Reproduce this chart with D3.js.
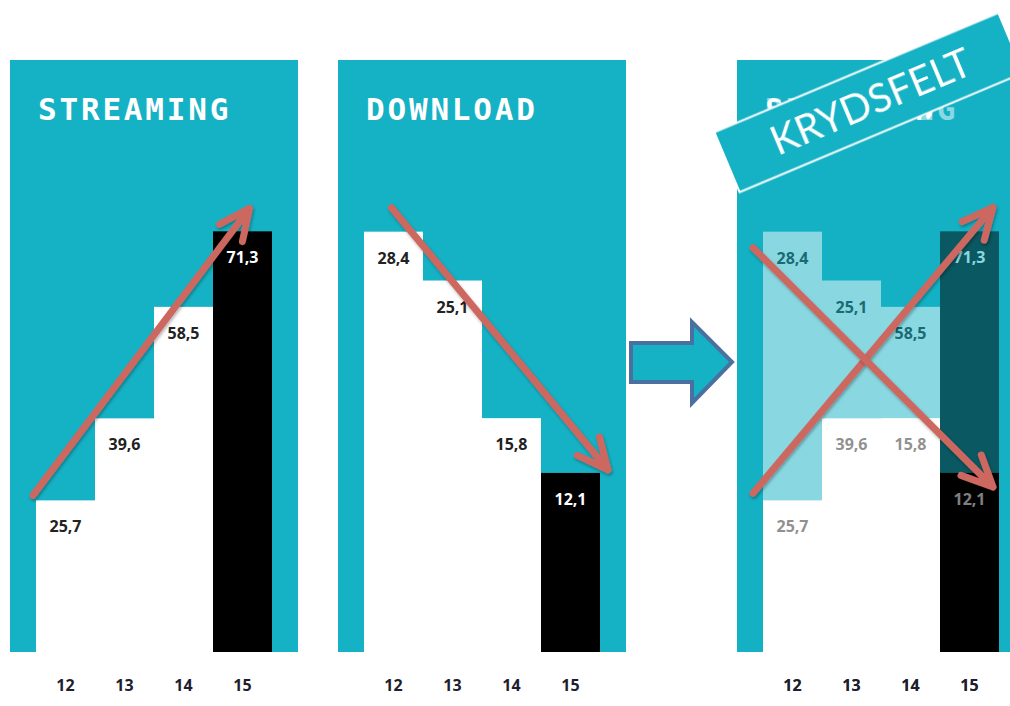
<!DOCTYPE html>
<html>
<head>
<meta charset="utf-8">
<script src="https://cdn.jsdelivr.net/npm/d3@7"></script>
<style>
  body { margin: 0; background: #fff; }
  svg { display: block; }
</style>
</head>
<body>
<svg id="chart" width="1010" height="706"></svg>
<script>
// data
var years = ["12", "13", "14", "15"];
var streaming = [25.7, 39.6, 58.5, 71.3];
var download = [28.4, 25.1, 15.8, 12.1];
var titles = ["STREAMING", "DOWNLOAD"];
var bannerText = "KRYDSFELT";

var teal = "#15b1c4";
var red = "#cd6760";
var panelW = 288, panelH = 592, panelTop = 60;

var svg = d3.select("#chart");

// danish number format: 25,7
var fmt = d3.formatLocale({decimal: ",", thousands: ".", grouping: [3], currency: ["", " kr"]}).format(".1f");

var x = d3.scaleBand().domain(years).range([26, 262]);
var bw = x.bandwidth();
var yStream = d3.scaleLinear().domain([0, 100]).range([panelH, 2]);
var yDown = d3.scaleLinear().domain([0, 40]).range([panelH, 0]);

// soft shadow for the red arrows
var defs = svg.append("defs");
defs.append("filter").attr("id", "shadow")
    .attr("x", "-20%").attr("y", "-20%").attr("width", "140%").attr("height", "140%")
  .append("feDropShadow")
    .attr("dx", 1).attr("dy", 2).attr("stdDeviation", 1.5)
    .attr("flood-color", "#000").attr("flood-opacity", 0.3);

function drawPanel(g, title, values, y) {
    var data = values.map(function(v, i) { return {year: years[i], value: v, last: i == values.length - 1}; });

    g.append("rect")
        .attr("width", panelW).attr("height", panelH)
        .attr("fill", teal);

    g.append("text")
        .attr("x", 28).attr("y", 60)
        .attr("fill", "#fff")
        .style("font-family", "'DejaVu Sans Mono', monospace")
        .style("font-weight", "bold")
        .style("font-size", "31px")
        .style("letter-spacing", "2.8px")
        .text(title);

    g.selectAll(".bar")
        .data(data)
        .enter().append("rect")
        .attr("class", "bar")
        .attr("x", function(d) { return x(d.year); })
        .attr("y", function(d) { return y(d.value); })
        .attr("width", bw)
        .attr("height", function(d) { return panelH - y(d.value); })
        .attr("fill", function(d) { return d.last ? "#000" : "#fff"; });

    g.selectAll(".val")
        .data(data)
        .enter().append("text")
        .attr("class", "val")
        .attr("x", function(d) { return x(d.year) + bw / 2; })
        .attr("y", function(d) { return y(d.value) + 32; })
        .attr("text-anchor", "middle")
        .attr("fill", function(d) { return d.last ? "#fff" : "#222"; })
        .style("font-family", "'Open Sans', sans-serif")
        .style("font-weight", "bold")
        .style("font-size", "16px")
        .text(function(d) { return fmt(d.value); });

    var axis = g.append("g")
        .attr("transform", "translate(0," + panelH + ")")
        .call(d3.axisBottom(x).tickSize(0).tickPadding(28));
    axis.select(".domain").remove();
    axis.selectAll("text")
        .attr("fill", "#1e1e2e")
        .style("font-family", "'Open Sans', sans-serif")
        .style("font-weight", "bold")
        .style("font-size", "16px");
}

function arrow(g, x1, y1, x2, y2) {
    var a = Math.atan2(y1 - y2, x1 - x2);
    var len = 34, spread = 25 * Math.PI / 180;
    var path = d3.path();
    path.moveTo(x1, y1); path.lineTo(x2, y2);
    path.moveTo(x2 + len * Math.cos(a - spread), y2 + len * Math.sin(a - spread));
    path.lineTo(x2, y2);
    path.lineTo(x2 + len * Math.cos(a + spread), y2 + len * Math.sin(a + spread));
    g.append("path")
        .attr("d", path.toString())
        .attr("fill", "none")
        .attr("stroke", red)
        .attr("stroke-width", 7)
        .attr("stroke-linecap", "round")
        .attr("stroke-linejoin", "round")
        .attr("filter", "url(#shadow)");
}

// panel 1: streaming
var p1 = svg.append("g").attr("transform", "translate(10," + panelTop + ")");
drawPanel(p1, titles[0], streaming, yStream);
arrow(p1, x(years[0]) - 3, yStream(streaming[0]) - 5,
          x(years[3]) + bw / 2 + 7, yStream(streaming[3]) - 23);

// panel 2: download
var p2 = svg.append("g").attr("transform", "translate(338," + panelTop + ")");
drawPanel(p2, titles[1], download, yDown);
arrow(p2, x(years[0]) + bw / 2 - 2, yDown(download[0]) - 24,
          x(years[3]) + bw + 8, yDown(download[3]) - 3);

// block arrow between
svg.append("path")
    .attr("d", "M631,343 L692,343 L692,322 L732,362 L692,403 L692,382 L631,382 Z")
    .attr("fill", teal)
    .attr("stroke", "#4a70a2")
    .attr("stroke-width", 4)
    .attr("stroke-linejoin", "miter");

// panel 3: both charts blended 50/50
var p3 = svg.append("g").attr("transform", "translate(737," + panelTop + ")");
drawPanel(p3.append("g"), titles[0], streaming, yStream);
drawPanel(p3.append("g").attr("opacity", 0.5), titles[1], download, yDown);
arrow(p3, x(years[0]) - 10, yStream(streaming[0]) - 7,
          x(years[3]) + bw - 6, yStream(streaming[3]) - 24);
arrow(p3, x(years[0]) - 10, yDown(download[0]) + 16,
          x(years[3]) + bw - 6, yDown(download[3]) + 14);

// banner
var banner = svg.append("g").attr("transform", "translate(869,102.5) rotate(-22.8)");
banner.append("rect")
    .attr("x", -154).attr("y", -32.5)
    .attr("width", 308).attr("height", 65)
    .attr("fill", teal)
    .attr("stroke", "#fff")
    .attr("stroke-width", 2);
banner.append("text")
    .attr("x", 2).attr("y", 0)
    .attr("dy", "0.36em")
    .attr("text-anchor", "middle")
    .attr("fill", "#fff")
    .style("font-family", "Lato, sans-serif")
    .style("font-size", "40px")
    .text(bannerText);
</script>
</body>
</html>
